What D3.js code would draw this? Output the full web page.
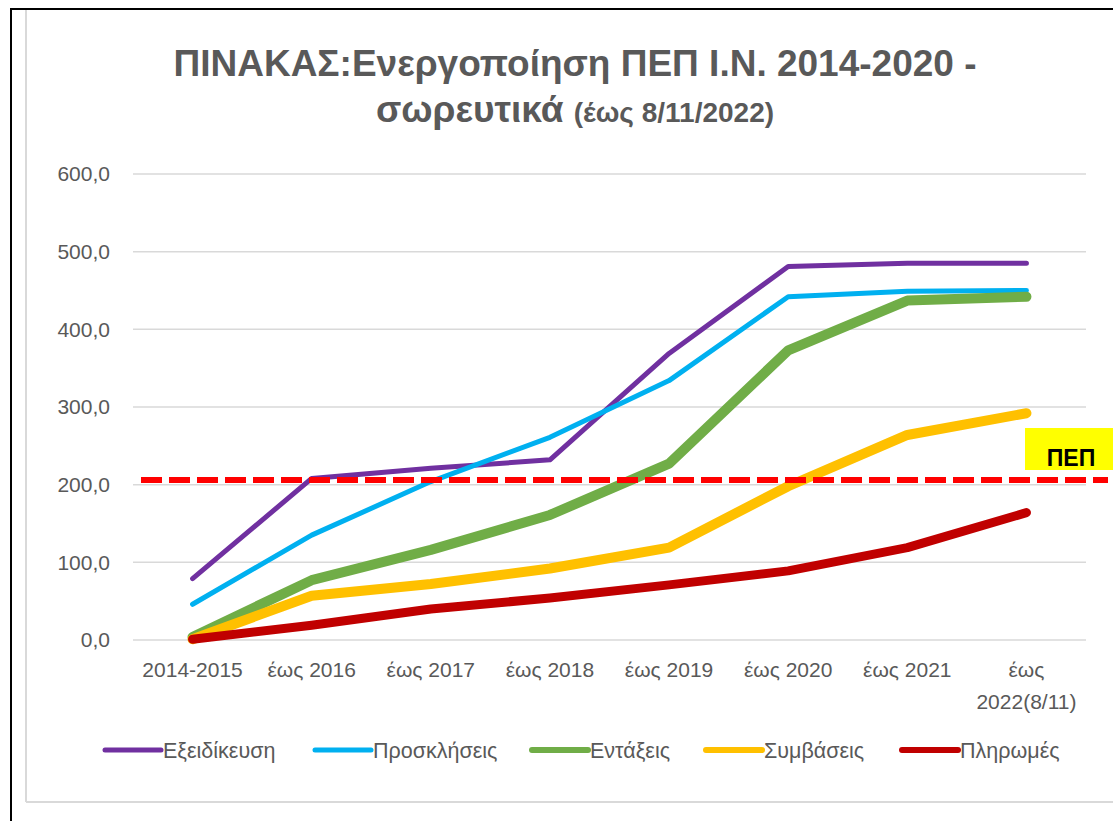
<!DOCTYPE html>
<html>
<head>
<meta charset="utf-8">
<script src="https://cdn.jsdelivr.net/npm/d3@7"></script>
<style>
  body { margin: 0; background: #fff; }
  svg { display: block; font-family: "Liberation Sans", Arial, sans-serif; }
</style>
</head>
<body>
<div id="chart"></div>
<script>
const categories = ['2014-2015', 'έως 2016', 'έως 2017', 'έως 2018', 'έως 2019', 'έως 2020', 'έως 2021', 'έως 2022(8/11)']
const exeidikeusi = [79, 208, 221, 232, 369, 481, 485, 485]
const proskliseis = [46, 135, 204, 261, 334, 442, 449, 450]
const entaxeis = [4, 77, 116, 161, 227, 373, 437, 442]
const symvaseis = [1, 57, 72, 92, 119, 198, 264, 292]
const pliromes = [1, 19, 40, 54, 71, 89, 119, 164]
const pepValue = 206
const yTicks = [0, 100, 200, 300, 400, 500, 600]

const seriesNames = ['Εξειδίκευση', 'Προσκλήσεις', 'Εντάξεις', 'Συμβάσεις', 'Πληρωμές']
const seriesValues = [exeidikeusi, proskliseis, entaxeis, symvaseis, pliromes]
const seriesColors = ['#7030A0', '#00B0F0', '#70AD47', '#FFC000', '#C00000']
const seriesWidths = [5, 5, 10, 10, 9]
const legendX = [105, 315, 532, 706, 902]

const width = 1113, height = 821
const fontSize = 21
const svg = d3.select('#chart').append('svg')
    .attr('width', width)
    .attr('height', height)

// frame
svg.append('line').attr('x1', 26).attr('y1', 9).attr('x2', 26).attr('y2', 802)
    .attr('stroke', '#d9d9d9').attr('stroke-width', 2)
svg.append('line').attr('x1', 26).attr('y1', 802).attr('x2', width).attr('y2', 802)
    .attr('stroke', '#d9d9d9').attr('stroke-width', 2)
svg.append('line').attr('x1', 10).attr('y1', 9).attr('x2', width).attr('y2', 9)
    .attr('stroke', '#000').attr('stroke-width', 2)
svg.append('line').attr('x1', 11).attr('y1', 9).attr('x2', 11).attr('y2', height)
    .attr('stroke', '#000').attr('stroke-width', 2)

// title
const title = svg.append('text')
    .attr('text-anchor', 'middle')
    .attr('fill', '#595959')
    .attr('font-weight', 'bold')
title.append('tspan')
    .attr('x', 575).attr('y', 76)
    .attr('font-size', 37)
    .text('ΠΙΝΑΚΑΣ:Ενεργοποίηση ΠΕΠ Ι.Ν. 2014-2020 -')
title.append('tspan')
    .attr('x', 575).attr('y', 122)
    .attr('font-size', 37)
    .text('σωρευτικά ')
title.append('tspan')
    .attr('font-size', 28)
    .text(' (έως 8/11/2022)')

// scales
const x = d3.scaleBand()
    .domain(categories)
    .range([133, 1086])

const y = d3.scaleLinear()
    .domain([0, 600])
    .range([640, 174])

const comma = d3.formatLocale({ decimal: ',', thousands: '.', grouping: [3], currency: ['', '€'] })

// gridlines
svg.append('g')
    .selectAll('line')
    .data(yTicks)
    .join('line')
    .attr('x1', x.range()[0])
    .attr('x2', x.range()[1])
    .attr('y1', d => y(d))
    .attr('y2', d => y(d))
    .attr('stroke', '#d9d9d9')
    .attr('stroke-width', 1.5)

const yAxis = d3.axisLeft(y)
    .tickValues(yTicks)
    .tickFormat(comma.format('.1f'))
    .tickSize(0)
    .tickPadding(0)

svg.append('g')
    .attr('transform', 'translate(110, 0)')
    .call(yAxis)
    .call(g => g.select('.domain').remove())
    .selectAll('text')
    .attr('font-size', fontSize)
    .attr('font-family', '"Liberation Sans", Arial, sans-serif')
    .attr('fill', '#595959')

const xAxis = d3.axisBottom(x).tickSize(0).tickPadding(0)
const xg = svg.append('g')
    .attr('transform', 'translate(0, 660)')
    .call(xAxis)
xg.select('.domain').remove()
xg.selectAll('text')
    .attr('font-size', fontSize)
    .attr('font-family', '"Liberation Sans", Arial, sans-serif')
    .attr('fill', '#595959')
    .attr('dy', '0.8em')
    .each(function (d) {
        const t = d3.select(this)
        if (this.getComputedTextLength() > x.bandwidth() - 8) {
            const words = d.split(' ')
            t.text(null)
            words.forEach((w, i) => {
                t.append('tspan').attr('x', 0).attr('dy', i === 0 ? '0.8em' : '1.55em').text(w)
            })
            t.attr('dy', null)
        }
    })

// lines
const line = d3.line()
    .x((d, i) => x(categories[i]) + x.bandwidth() / 2)
    .y(d => y(d))

svg.append('g')
    .selectAll('path')
    .data(seriesValues)
    .join('path')
    .attr('d', d => line(d))
    .attr('fill', 'none')
    .attr('stroke', (d, i) => seriesColors[i])
    .attr('stroke-width', (d, i) => seriesWidths[i])
    .attr('stroke-linecap', 'round')
    .attr('stroke-linejoin', 'round')

// ΠΕΠ reference line
svg.append('rect')
    .attr('x', 1025).attr('y', 428)
    .attr('width', 88).attr('height', 42)
    .attr('fill', '#FFFF00')
svg.append('text')
    .attr('x', 1071).attr('y', 466)
    .attr('text-anchor', 'middle')
    .attr('font-size', 23)
    .attr('font-weight', 'bold')
    .attr('fill', '#000')
    .text('ΠΕΠ')

svg.append('line')
    .attr('x1', 141).attr('x2', 1108)
    .attr('y1', y(pepValue)).attr('y2', y(pepValue))
    .attr('stroke', '#FF0000')
    .attr('stroke-width', 6)
    .attr('stroke-dasharray', '21,7')

// legend
const legend = svg.append('g')
    .selectAll('g')
    .data(seriesNames)
    .join('g')
    .attr('transform', (d, i) => `translate(${legendX[i]}, 750)`)

legend.append('line')
    .attr('x1', 0).attr('x2', 56)
    .attr('stroke', (d, i) => seriesColors[i])
    .attr('stroke-width', (d, i) => Math.min(seriesWidths[i], 6))
    .attr('stroke-linecap', 'round')

legend.append('text')
    .attr('x', 58)
    .attr('y', 8)
    .attr('font-size', 21.5)
    .attr('fill', '#595959')
    .text(d => d)
</script>
</body>
</html>
